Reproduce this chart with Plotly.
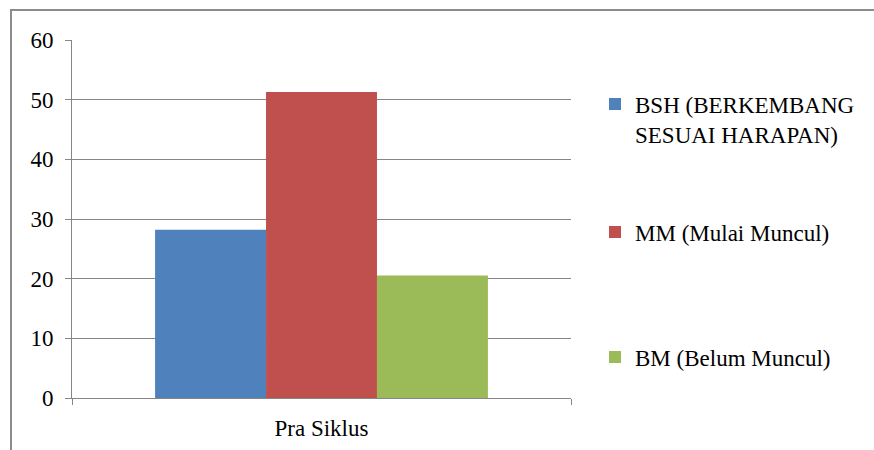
import plotly.graph_objects as go

categories = ["Pra Siklus"]
series_names = ["BSH (BERKEMBANG<br>SESUAI HARAPAN)", "MM (Mulai Muncul)", "BM (Belum Muncul)"]
bsh_values = [28.21]
mm_values = [51.28]
bm_values = [20.51]
colors = ["#4F81BD", "#C0504D", "#9BBB59"]
y_ticks = [0, 10, 20, 30, 40, 50, 60]

FONT = "Liberation Serif"
FS = 23

fig = go.Figure()
all_values = [bsh_values, mm_values, bm_values]
legend_ids = ["legend", "legend2", "legend3"]
for name, vals, col, lg in zip(series_names, all_values, colors, legend_ids):
    fig.add_trace(go.Bar(x=categories, y=vals, name=name, marker_color=col,
                         marker_line_width=0, legend=lg, showlegend=True,
                         hoverinfo="y+name"))

W, H = 874, 450
L, R, T, B = 72, 303, 40, 52
pw, ph = W - L - R, H - T - B

def px_x(x):
    return (x - L) / pw

def px_y(y):
    return (H - B - y) / ph

leg_common = dict(font=dict(family=FONT, size=FS, color="black"),
                  bgcolor="rgba(0,0,0,0)", borderwidth=0,
                  xanchor="left", yanchor="middle", x=px_x(595))

fig.update_layout(
    width=W, height=H,
    margin=dict(l=L, r=R, t=T, b=B, autoexpand=False),
    paper_bgcolor="white", plot_bgcolor="white",
    showlegend=True,
    barmode="group", bargap=0.333, bargroupgap=0,
    font=dict(family=FONT, size=FS, color="black"),
    legend=dict(**leg_common, y=px_y(119), valign="top"),
    legend2=dict(**leg_common, y=px_y(232)),
    legend3=dict(**leg_common, y=px_y(357)),
    xaxis=dict(range=[-0.5, 0.5], showgrid=False, showline=True, linecolor="#868686",
               linewidth=1, ticks="outside", tickson="boundaries", ticklen=6,
               tickcolor="#868686", ticklabelstandoff=9, automargin=False,
               tickfont=dict(family=FONT, size=FS, color="black")),
    yaxis=dict(range=[0, 60], tickvals=y_ticks, showgrid=True, gridcolor="#868686",
               gridwidth=1, showline=True, linecolor="#868686", linewidth=1,
               ticks="outside", ticklen=6, tickcolor="#868686", zeroline=False,
               ticklabelstandoff=7, automargin=False,
               tickfont=dict(family=FONT, size=FS, color="black")),
    shapes=[dict(type="rect", xref="paper", yref="paper",
                 x0=px_x(11), x1=px_x(890), y0=px_y(470), y1=px_y(10),
                 line=dict(color="#8C8C8C", width=2), fillcolor="rgba(0,0,0,0)",
                 layer="below")],
)

fig.write_html("out.html")
